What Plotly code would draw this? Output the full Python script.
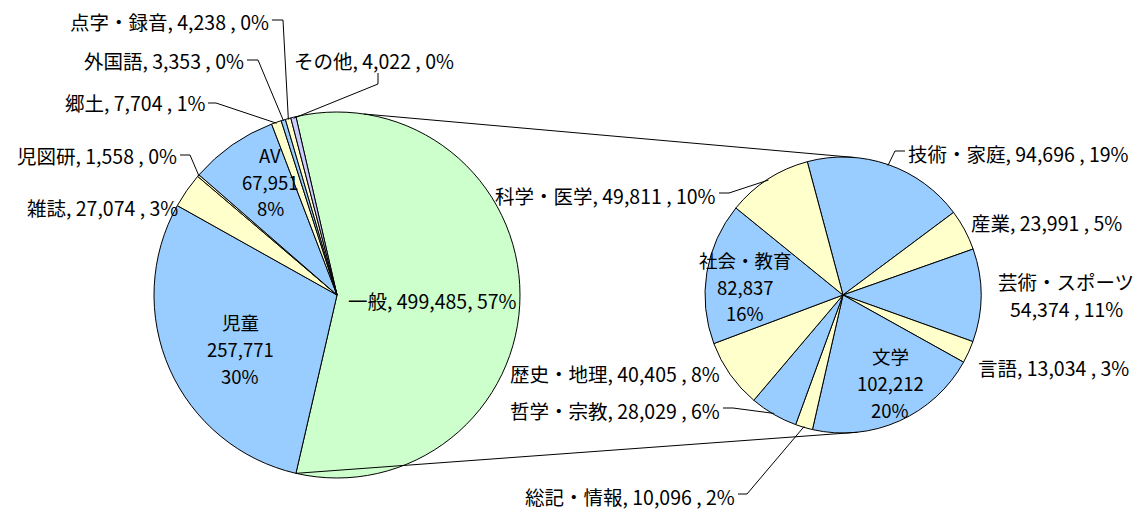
import math
import plotly.graph_objects as go

W, H = 1139, 510

# ---------------- data ----------------
main_labels = ["一般", "児童", "雑誌", "児図研", "AV", "郷土", "外国語", "点字・録音", "その他"]
main_values = [499485, 257771, 27074, 1558, 67951, 7704, 3353, 4238, 4022]
main_pct = ["57%", "30%", "3%", "0%", "8%", "1%", "0%", "0%", "0%"]

sub_labels = ["技術・家庭", "産業", "芸術・スポーツ", "言語", "文学", "総記・情報",
              "哲学・宗教", "歴史・地理", "社会・教育", "科学・医学"]
sub_values = [94696, 23991, 54374, 13034, 102212, 10096, 28029, 40405, 82837, 49811]
sub_pct = ["19%", "5%", "11%", "3%", "20%", "2%", "6%", "8%", "16%", "10%"]

# ---------------- style / layout ----------------
GREEN, BLUE, YELLOW, LAV = "#CCFFCC", "#99CCFF", "#FFFFCC", "#CCCCFF"
main_colors = [GREEN, BLUE, YELLOW, YELLOW, BLUE, YELLOW, BLUE, YELLOW, LAV]
sub_colors = [BLUE, YELLOW, BLUE, YELLOW, BLUE, YELLOW, BLUE, YELLOW, BLUE, YELLOW]

FONT = "Noto Sans CJK JP"
FS = 19.5
FS_IN = 18.5

L_C, L_R = (337, 295), 183
R_C, R_R = (843, 295), 138

main_total = sum(main_values)
main_rot = 90 - 0.5 * main_values[0] / main_total * 360
sub_rot = -15


def px(x):
    return x / W


def py(y):
    return 1 - y / H


def mid_angles(values, rot):
    tot = sum(values)
    out, cur = [], rot
    for v in values:
        a = v / tot * 360
        out.append(cur + a / 2)
        cur += a
    return out


def edge_angles(values, rot):
    tot = sum(values)
    out, cur = [rot], rot
    for v in values:
        cur += v / tot * 360
        out.append(cur)
    return out


def on_circle(c, r, ang):
    a = math.radians(ang)
    return (c[0] + r * math.sin(a), c[1] - r * math.cos(a))


def dom(c, r):
    return dict(x=[px(c[0] - r), px(c[0] + r)], y=[py(c[1] + r), py(c[1] - r)])


fig = go.Figure()
fig.add_trace(go.Pie(labels=main_labels, values=main_values, sort=False,
                     direction="clockwise", rotation=main_rot, textinfo="none",
                     marker=dict(colors=main_colors, line=dict(color="black", width=1)),
                     domain=dom(L_C, L_R), showlegend=False, hoverinfo="label+value"))
fig.add_trace(go.Pie(labels=sub_labels, values=sub_values, sort=False,
                     direction="clockwise", rotation=sub_rot, textinfo="none",
                     marker=dict(colors=sub_colors, line=dict(color="black", width=1)),
                     domain=dom(R_C, R_R), showlegend=False, hoverinfo="label+value"))

ann = []
shapes = []


def text(x, y, s, anchor="center", size=FS):
    ann.append(dict(x=px(x), y=py(y), xref="paper", yref="paper", text=s,
                    showarrow=False, xanchor=anchor, yanchor="middle", borderpad=0,
                    font=dict(family=FONT, size=size, color="black")))


def line(p, q):
    shapes.append(dict(type="line", xref="paper", yref="paper",
                       x0=px(p[0]), y0=py(p[1]), x1=px(q[0]), y1=py(q[1]),
                       line=dict(color="black", width=1)))


def fmt(v):
    return f"{v:,}"


# ---- label placement (text position, anchor, leader elbow points) ----
main_out = {
    "点字・録音": ((270, 22, "right"), [(272, 20), (283, 20)]),
    "外国語": ((245, 60, "right"), [(247, 60), (258, 60)]),
    "郷土": ((206, 103, "right"), [(208, 103), (216, 103)]),
    "児図研": ((178, 155, "right"), [(180, 155), (190, 155)]),
    "雑誌": ((179, 207, "right"), None),
    "その他": ((293, 60, "left"), [(378, 73), (378, 84)]),
}
main_in = {"児童": (240, [322, 349, 376]), "AV": (270, [155, 182, 208])}

sub_out = {
    "技術・家庭": ((907, 153, "left"), [(905, 151), (895, 151)]),
    "産業": ((970, 222, "left"), None),
    "言語": ((977, 367, "left"), None),
    "総記・情報": ((736, 496, "right"), [(738, 494), (747, 494)]),
    "哲学・宗教": ((721, 410, "right"), [(723, 408), (733, 408)]),
    "歴史・地理": ((721, 373, "right"), None),
    "科学・医学": ((717, 195, "right"), [(719, 193), (729, 193)]),
}
sub_in = {"文学": (890, [356, 383, 410]), "社会・教育": (745, [260, 287, 313])}

m_mid = mid_angles(main_values, main_rot)
for i, lab in enumerate(main_labels):
    v, p = main_values[i], main_pct[i]
    if lab == "一般":
        text(347, 300, f"{lab}, {fmt(v)}, {p}", "left")
    elif lab in main_in:
        x, ys = main_in[lab]
        for s, y in zip([lab, fmt(v), p], ys):
            text(x, y, s, size=FS_IN)
    else:
        (x, y, a), pts = main_out[lab]
        text(x, y, f"{lab}, {fmt(v)} , {p}", a)
        if pts:
            tip = on_circle(L_C, L_R - 1, m_mid[i])
            chain = pts + [tip]
            for q0, q1 in zip(chain[:-1], chain[1:]):
                line(q0, q1)

s_mid = mid_angles(sub_values, sub_rot)
for i, lab in enumerate(sub_labels):
    v, p = sub_values[i], sub_pct[i]
    if lab == "芸術・スポーツ":
        text(1066, 281, lab)
        text(1066, 308, f"{fmt(v)} , {p}")
    elif lab in sub_in:
        x, ys = sub_in[lab]
        for s, y in zip([lab, fmt(v), p], ys):
            text(x, y, s, size=FS_IN)
    else:
        (x, y, a), pts = sub_out[lab]
        text(x, y, f"{lab}, {fmt(v)} , {p}", a)
        if pts:
            tip = on_circle(R_C, R_R - 1, s_mid[i])
            chain = pts + [tip]
            for q0, q1 in zip(chain[:-1], chain[1:]):
                line(q0, q1)

# ---- series lines connecting the two pies ----
m_edges = edge_angles(main_values, main_rot)
line(on_circle(L_C, L_R, 8.5), on_circle(R_C, R_R, 5))
line(on_circle(L_C, L_R, m_edges[1]), on_circle(R_C, R_R, 174))

fig.update_layout(width=W, height=H, margin=dict(l=0, r=0, t=0, b=0),
                  paper_bgcolor="white", plot_bgcolor="white",
                  annotations=ann, shapes=shapes,
                  font=dict(family=FONT, size=FS))
fig.write_html("out.html", config={"displayModeBar": False},
               post_script="document.body.style.margin='0';document.body.style.padding='0';")
